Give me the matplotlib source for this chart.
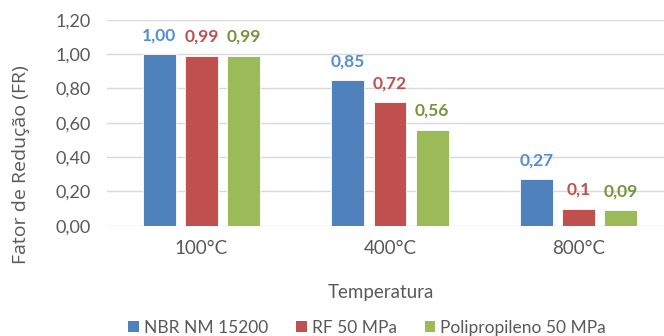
import matplotlib
matplotlib.use("Agg")
import matplotlib.pyplot as plt
import numpy as np
from matplotlib.patches import Patch

plt.rcParams["font.family"] = ["Lato", "DejaVu Sans"]
plt.rcParams["font.size"] = 12

categories = ["100°C", "400°C", "800°C"]
series_names = ["NBR NM 15200", "RF 50 MPa", "Polipropileno 50 MPa"]
nbr = [1.00, 0.85, 0.27]
rf = [0.99, 0.72, 0.10]
pp = [0.99, 0.56, 0.09]
value_labels = [
    ["1,00", "0,85", "0,27"],
    ["0,99", "0,72", "0,1"],
    ["0,99", "0,56", "0,09"],
]
yticks = [0.0, 0.2, 0.4, 0.6, 0.8, 1.0, 1.2]
ytick_labels = ["0,00", "0,20", "0,40", "0,60", "0,80", "1,00", "1,20"]

colors = ["#4F81BD", "#C0504D", "#9BBB59"]
label_colors = ["#558ED5", "#C0504D", "#77933C"]
GRAY = "#595959"

fig = plt.figure(figsize=(6.64, 3.36), dpi=100)
ax = fig.add_axes([0.1615, 0.3283, 0.8517, 0.6131])

x = np.arange(len(categories))
step = 0.223
width = 0.175
for i, vals in enumerate([nbr, rf, pp]):
    pos = x + (i - 1) * step
    ax.bar(pos, vals, width, color=colors[i], edgecolor="white",
           linewidth=0.6, zorder=3)
    for px, v, lab in zip(pos, vals, value_labels[i]):
        ax.annotate(lab, (px, v), xytext=(0, 13.5), textcoords="offset points",
                    ha="center", va="center", color=label_colors[i],
                    fontweight="bold", fontsize=12.5)

ax.set_xlim(-0.5, 2.5)
ax.set_ylim(0, 1.2)
ax.set_yticks(yticks)
ax.set_yticklabels(ytick_labels, fontsize=13)
ax.set_xticks(x)
ax.set_xticklabels(categories, fontsize=13.5)
ax.tick_params(length=0, colors=GRAY)
ax.tick_params(axis="y", pad=12)
ax.tick_params(axis="x", pad=10)
ax.grid(axis="y", color="#D9D9D9", linewidth=1, zorder=0)
for s in ax.spines.values():
    s.set_visible(False)
ax.set_axisbelow(True)

fig.text(0.031, 0.51, "Fator de Redução (FR)", rotation=90,
         ha="center", va="center", color=GRAY, fontsize=14,
         family=["Open Sans", "DejaVu Sans"])
fig.text(0.573, 0.128, "Temperatura", ha="center", va="center",
         color=GRAY, fontsize=13.5)

handles = [Patch(facecolor=c) for c in colors]
fig.legend(handles, series_names, loc="center", bbox_to_anchor=(0.553, 0.025),
           ncol=3, frameon=False, handlelength=0.6, handleheight=0.6,
           handletextpad=0.3, columnspacing=1.6, fontsize=12.5,
           labelcolor=GRAY)

fig.savefig("out.png", dpi=100)
